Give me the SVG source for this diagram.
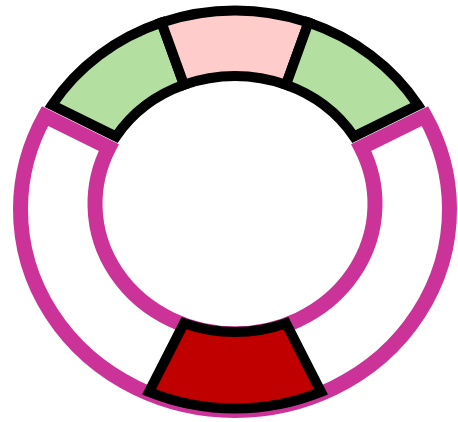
<svg xmlns="http://www.w3.org/2000/svg" width="458" height="422" viewBox="0 0 458 422">
  <style>
    .seg { stroke: #000000; stroke-width: 10; stroke-linejoin: miter; stroke-miterlimit: 10; }
    .band { fill: #ffffff; stroke: #cc3399; stroke-width: 15; stroke-linejoin: miter; stroke-miterlimit: 10; }
    .green { fill: #b3e0a0; }
    .pink { fill: #ffcccc; }
    .red { fill: #c00000; }
  </style>
  <rect x="0" y="0" width="458" height="422" fill="#ffffff"/>
  <g id="band-lower">
    <path class="band" d="M45,116.1 A214.5,201 0 1 0 425,116.1 L361.2,147.5 A140,130 0 1 1 108.8,147.5 Z"/>
  </g>
  <g id="segment-green-left">
    <path class="seg green" d="M52,105 A215,199 0 0 1 161.5,22.5 L184,84.8 A140,128 0 0 0 116,136.6 Z"/>
  </g>
  <g id="segment-pink">
    <path class="seg pink" d="M161.5,22.5 A215,199 0 0 1 308.5,22.5 L286,84.8 A140,128 0 0 0 184,84.8 Z"/>
  </g>
  <g id="segment-green-right">
    <path class="seg green" d="M308.5,22.5 A215,199 0 0 1 418,105 L354,136.6 A140,128 0 0 0 286,84.8 Z"/>
  </g>
  <g id="segment-red">
    <path class="seg red" d="M184,323.2 A140,128 0 0 0 286,323.2 L321,391.9 A215,199 0 0 1 149,391.9 Z"/>
  </g>
  <g id="connectors"/>
</svg>
